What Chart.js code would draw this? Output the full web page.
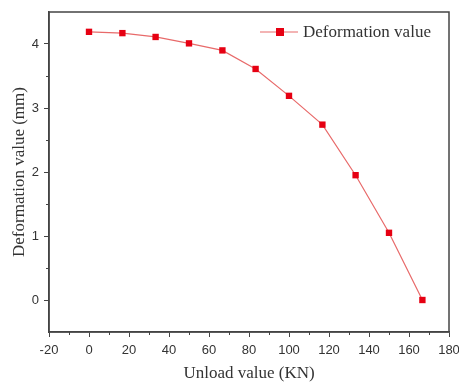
<!DOCTYPE html>
<html>
<head>
<meta charset="utf-8">
<script src="https://cdn.jsdelivr.net/npm/chart.js@4/dist/chart.umd.min.js"></script>
<style>
  html, body { margin: 0; padding: 0; background: #fff; }
  #wrap { width: 459px; height: 384px; }
</style>
</head>
<body>
<div id="wrap"><canvas id="deformChart" width="459" height="384"></canvas></div>
<script>
const unloadKN = [0, 16.7, 33.3, 50, 66.7, 83.3, 100, 116.7, 133.3, 150, 166.7];
const deformMM = [4.19, 4.17, 4.11, 4.01, 3.90, 3.61, 3.19, 2.74, 1.95, 1.05, 0];
const xTickValues = [-20, 0, 20, 40, 60, 80, 100, 120, 140, 160, 180];
const yTickValues = [0, 1, 2, 3, 4];
const xMinorTicks = [-10, 10, 30, 50, 70, 90, 110, 130, 150, 170];
const yMinorTicks = [0.5, 1.5, 2.5, 3.5];

const AXIS_COLOR = '#444';
const MARK_COLOR = '#e60012';
const LINE_COLOR = '#e86a6a';
const SERIF = '"Liberation Serif", "Times New Roman", serif';
const SANS = '"Liberation Sans", Arial, sans-serif';

// frame, minor ticks and the legend drawn by hand
const framePlugin = {
  id: 'frame',
  afterDraw(chart) {
    const { ctx, chartArea: a, scales } = chart;
    ctx.save();
    ctx.strokeStyle = AXIS_COLOR;
    ctx.lineWidth = 1.5;
    ctx.strokeRect(a.left, a.top, a.right - a.left, a.bottom - a.top);

    ctx.lineWidth = 1;
    ctx.beginPath();
    xMinorTicks.forEach(v => {
      const px = Math.round(scales.x.getPixelForValue(v)) + 0.5;
      ctx.moveTo(px, a.bottom);
      ctx.lineTo(px, a.bottom + 3);
    });
    yMinorTicks.forEach(v => {
      const py = Math.round(scales.y.getPixelForValue(v)) + 0.5;
      ctx.moveTo(a.left, py);
      ctx.lineTo(a.left - 3, py);
    });
    ctx.stroke();

    // legend
    const lx = 260, ly = 32;
    ctx.strokeStyle = LINE_COLOR;
    ctx.lineWidth = 1.2;
    ctx.beginPath();
    ctx.moveTo(lx, ly);
    ctx.lineTo(lx + 38, ly);
    ctx.stroke();
    ctx.fillStyle = MARK_COLOR;
    ctx.fillRect(lx + 16, ly - 4, 8, 8);
    ctx.fillStyle = '#333';
    ctx.font = '17px ' + SERIF;
    ctx.textBaseline = 'middle';
    ctx.fillText(chart.data.datasets[0].label, lx + 43, ly + 1);
    ctx.restore();
  }
};

new Chart(document.getElementById('deformChart'), {
  type: 'scatter',
  data: {
    datasets: [{
      label: 'Deformation value',
      data: unloadKN.map((x, i) => ({ x: x, y: deformMM[i] })),
      showLine: true,
      borderColor: LINE_COLOR,
      borderWidth: 1.2,
      pointStyle: 'rect',
      pointRadius: 4.5,
      pointBackgroundColor: MARK_COLOR,
      pointBorderColor: MARK_COLOR,
      pointBorderWidth: 0,
      tension: 0
    }]
  },
  plugins: [framePlugin],
  options: {
    responsive: false,
    animation: false,
    layout: { padding: { top: 12, right: 10, left: 0, bottom: 0 } },
    plugins: {
      legend: { display: false },
      tooltip: { enabled: false }
    },
    scales: {
      x: {
        type: 'linear',
        min: -20,
        max: 180,
        afterBuildTicks: s => { s.ticks = xTickValues.map(v => ({ value: v })); },
        afterFit: s => { s.height = 52; s.paddingLeft = 0; s.paddingRight = 0; },
        grid: { drawOnChartArea: false, drawTicks: true, tickLength: 5, color: AXIS_COLOR, lineWidth: 1 },
        border: { color: AXIS_COLOR, width: 1.5 },
        ticks: {
          color: '#333',
          padding: 6,
          maxRotation: 0,
          font: { family: SANS, size: 13 }
        },
        title: {
          display: true,
          text: 'Unload value (KN)',
          color: '#333',
          padding: { top: 3, bottom: 0 },
          font: { family: SERIF, size: 17 }
        }
      },
      y: {
        type: 'linear',
        min: -0.5,
        max: 4.5,
        afterBuildTicks: s => { s.ticks = yTickValues.map(v => ({ value: v })); },
        afterFit: s => { s.width = 49; s.paddingTop = 0; s.paddingBottom = 0; },
        grid: { drawOnChartArea: false, drawTicks: true, tickLength: 5, color: AXIS_COLOR, lineWidth: 1 },
        border: { color: AXIS_COLOR, width: 1.5 },
        ticks: {
          color: '#333',
          padding: 5,
          font: { family: SANS, size: 13 }
        },
        title: {
          display: true,
          text: 'Deformation value (mm)',
          color: '#333',
          padding: { top: 9, bottom: 0 },
          font: { family: SERIF, size: 17 }
        }
      }
    }
  }
});
</script>
</body>
</html>
